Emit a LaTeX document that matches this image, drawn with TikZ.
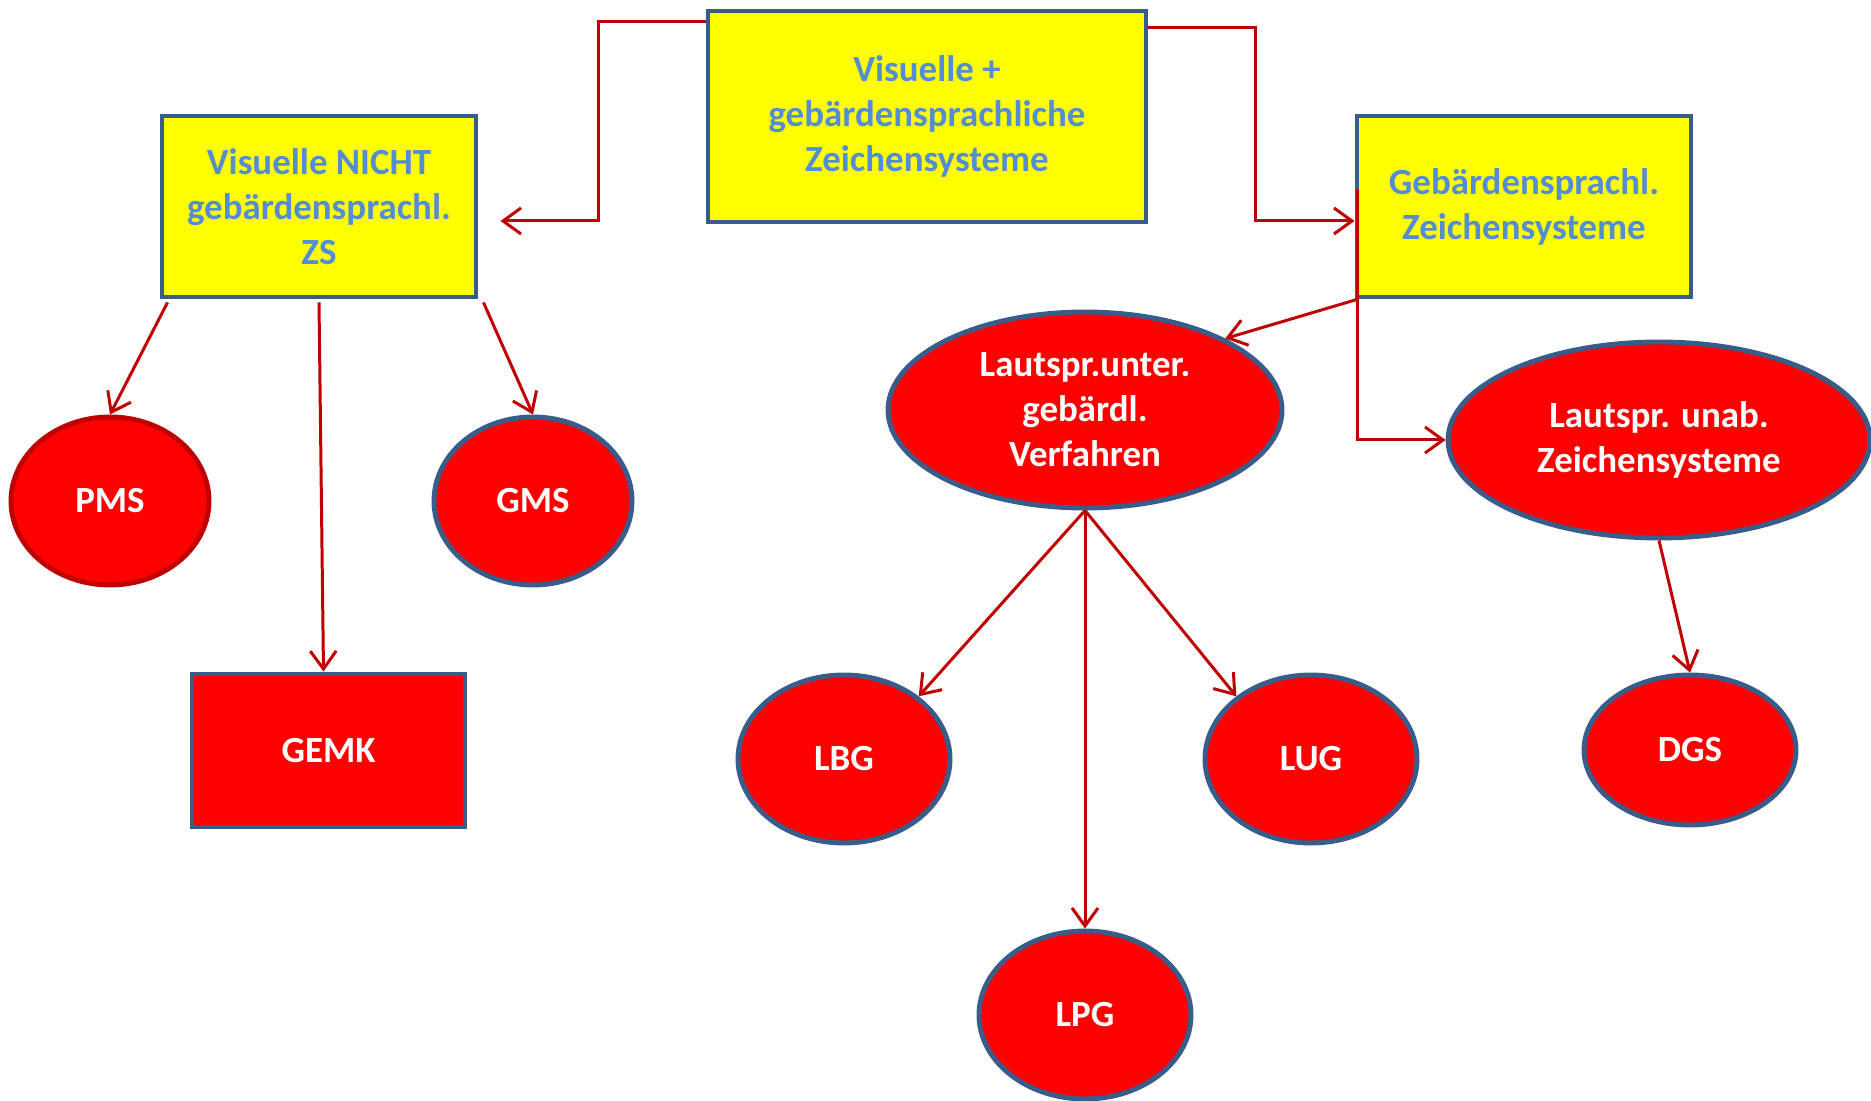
\documentclass[tikz,border=0pt]{standalone}
\usepackage{fontspec}
\setmainfont{Carlito}
\usetikzlibrary{shapes.geometric,arrows.meta,positioning,calc}

\definecolor{boxyellow}{RGB}{255,255,0}
\definecolor{boxborder}{RGB}{56,93,138}
\definecolor{boxtext}{RGB}{84,141,212}
\definecolor{arrowred}{RGB}{192,0,0}
\definecolor{ovalred}{RGB}{255,0,0}

\begin{document}
\begin{tikzpicture}[
    font=\fontsize{10.5}{12.8}\selectfont\bfseries,
    sysbox/.style={rectangle, draw=boxborder, line width=1.4pt, fill=boxyellow, text=boxtext, align=center, inner sep=0pt},
    oval/.style={ellipse, draw=boxborder, line width=1.4pt, fill=ovalred, text=white, align=center, inner sep=0pt},
    redbox/.style={rectangle, draw=boxborder, line width=1.4pt, fill=ovalred, text=white, align=center, inner sep=0pt},
    arrow/.style={-{Straight Barb[length=1.8mm,width=2.6mm]}, draw=arrowred, line width=0.85pt}
]
    \useasboundingbox (0,0) rectangle (18.71,11);

    % Yellow boxes
    \node[sysbox, minimum width=4.38cm, minimum height=2.11cm] (visgeb) at (9.27,9.835) {Visuelle +\\gebärdensprachliche\\Zeichensysteme};
    \node[sysbox, minimum width=3.14cm, minimum height=1.81cm] (vns) at (3.19,8.935) {Visuelle NICHT\\gebärdensprachl.\\ZS};
    \node[sysbox, minimum width=3.34cm, minimum height=1.81cm] (gsz) at (15.24,8.935) {Gebärdensprachl.\\Zeichensysteme};

    % Left branch
    \node[oval, draw=arrowred, minimum width=1.98cm, minimum height=1.68cm] (pms) at (1.10,5.99) {PMS};
    \node[oval, minimum width=1.98cm, minimum height=1.68cm] (gms) at (5.33,5.99) {GMS};
    \node[redbox, minimum width=2.73cm, minimum height=1.53cm] (gemk) at (3.285,3.495) {GEMK};

    % Right branch
    \node[oval, minimum width=3.94cm, minimum height=1.96cm] (lsu) at (10.85,6.90) {Lautspr.unter.\\gebärdl.\\Verfahren};
    \node[oval, minimum width=4.22cm, minimum height=1.96cm] (lsa) at (16.59,6.60) {Lautspr. unab.\\Zeichensysteme};
    \node[oval, minimum width=2.12cm, minimum height=1.68cm] (lbg) at (8.44,3.41) {LBG};
    \node[oval, minimum width=2.12cm, minimum height=1.68cm] (lug) at (13.11,3.41) {LUG};
    \node[oval, minimum width=2.12cm, minimum height=1.68cm] (lpg) at (10.85,0.85) {LPG};
    \node[oval, minimum width=2.12cm, minimum height=1.50cm] (dgs) at (16.90,3.50) {DGS};

    % Top connections
    \draw[arrow] ([yshift=-1.3mm]visgeb.north west) -- ++(-1.07,0) |- ([xshift=2.2mm,yshift=-1.45mm]vns.east);
    \draw[arrow] ([yshift=-1.9mm]visgeb.north east) -- ++(1.07,0) |- ([yshift=-1.45mm]gsz.west);

    % From left box
    \draw[arrow] ([xshift=0.8mm,yshift=-0.3mm]vns.south west) -- (pms.north);
    \draw[arrow] ([yshift=-0.3mm]vns.south) -- ([xshift=-0.5mm]gemk.north);
    \draw[arrow] ([xshift=0.5mm,yshift=-0.3mm]vns.south east) -- (gms.north);

    % From right box
    \draw[arrow] ([xshift=0.7pt]gsz.south west) -- (lsu.27);
    \draw[arrow] ([xshift=0.7pt,yshift=-7.5mm]gsz.north west) |- (lsa.west);

    % Lower level
    \draw[arrow] (lsu.south) -- (lbg.40);
    \draw[arrow] (lsu.south) -- (lug.140);
    \draw[arrow] (lsu.south) -- (lpg.north);
    \draw[arrow] (lsa.south) -- (dgs.north);

\end{tikzpicture}
\end{document}
